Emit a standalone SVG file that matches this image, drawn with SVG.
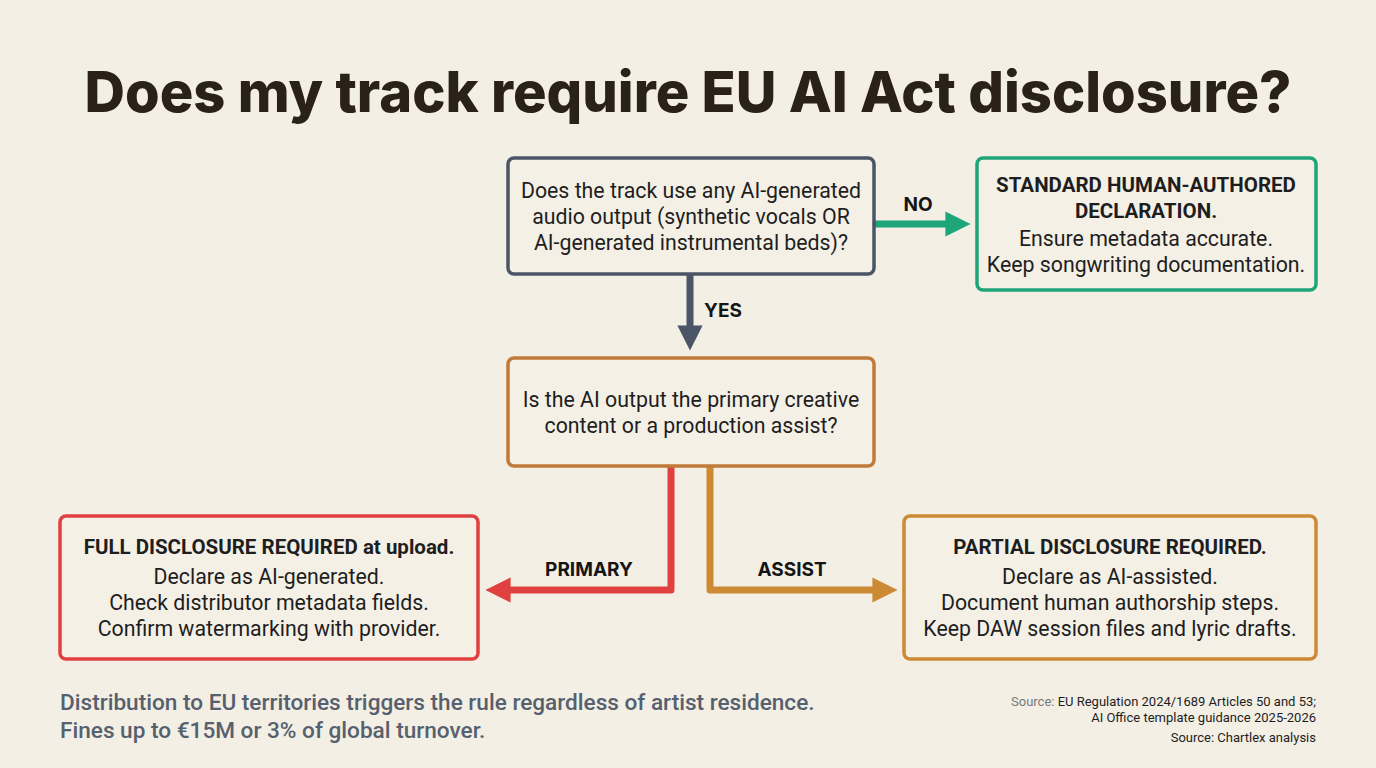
<svg xmlns="http://www.w3.org/2000/svg" width="1376" height="768" viewBox="0 0 1376 768">
<style>
text{font-family:Roboto,"Liberation Sans",sans-serif;fill:#1e1e1e}
.t{font-size:21.3px;text-anchor:middle}
.b{font-weight:700;font-size:20.5px}
.lab{font-family:Inter,"Liberation Sans",sans-serif;font-size:19px;font-weight:700;text-anchor:middle;fill:#151515}
.box{fill:#f4f0e6;stroke-width:3.5}
</style>
<defs>
<marker id="aGray" viewBox="0 0 10 10" refX="5" refY="5" markerWidth="3.6" markerHeight="3.6" orient="auto-start-reverse"><path d="M0,0L10,5L0,10z" fill="#4a5565"/></marker>
<marker id="aGreen" viewBox="0 0 10 10" refX="5" refY="5" markerWidth="3.6" markerHeight="3.6" orient="auto-start-reverse"><path d="M0,0L10,5L0,10z" fill="#1fa57a"/></marker>
<marker id="aRed" viewBox="0 0 10 10" refX="5" refY="5" markerWidth="3.6" markerHeight="3.6" orient="auto-start-reverse"><path d="M0,0L10,5L0,10z" fill="#e04040"/></marker>
<marker id="aOr" viewBox="0 0 10 10" refX="5" refY="5" markerWidth="3.6" markerHeight="3.6" orient="auto-start-reverse"><path d="M0,0L10,5L0,10z" fill="#cc8a35"/></marker>
</defs>
<rect width="1376" height="768" fill="#f3efe5"/>
<text x="688" y="112" style="font-family:Inter,'Liberation Sans',sans-serif;font-size:56px;font-weight:800;text-anchor:middle;fill:#2a2219">Does my track require EU AI Act disclosure?</text>
<g id="connectors">
<path d="M874,224H958" stroke="#1fa57a" stroke-width="7" fill="none" marker-end="url(#aGreen)"/>
<text class="lab" x="918" y="211">NO</text>
<path d="M690,274V338" stroke="#4a5565" stroke-width="7" fill="none" marker-end="url(#aGray)"/>
<text class="lab" x="723" y="317">YES</text>
<path d="M671,466V590H498" stroke="#e04040" stroke-width="7" fill="none" stroke-linejoin="round" marker-end="url(#aRed)"/>
<text class="lab" x="589" y="576">PRIMARY</text>
<path d="M710,466V590H885" stroke="#cc8a35" stroke-width="7" fill="none" stroke-linejoin="round" marker-end="url(#aOr)"/>
<text class="lab" x="792" y="576">ASSIST</text>
</g>
<g id="q1">
<rect class="box" x="508" y="158" width="366" height="116" rx="6" stroke="#4a5565"/>
<text class="t" x="691" y="198">Does the track use any AI-generated</text>
<text class="t" x="691" y="224">audio output (synthetic vocals OR</text>
<text class="t" x="691" y="250">AI-generated instrumental beds)?</text>
</g>
<g id="standard">
<rect class="box" x="977" y="158" width="339" height="132" rx="6" stroke="#1fa57a"/>
<text class="t b" x="1146" y="192">STANDARD HUMAN-AUTHORED</text>
<text class="t b" x="1146" y="218">DECLARATION.</text>
<text class="t" x="1146" y="246">Ensure metadata accurate.</text>
<text class="t" x="1146" y="272">Keep songwriting documentation.</text>
</g>
<g id="q2">
<rect class="box" x="508" y="358" width="366" height="108" rx="6" stroke="#c07a3a"/>
<text class="t" x="691" y="407">Is the AI output the primary creative</text>
<text class="t" x="691" y="433">content or a production assist?</text>
</g>
<g id="full">
<rect class="box" x="60" y="516" width="418" height="143" rx="6" stroke="#e04040"/>
<text class="t b" x="269" y="554">FULL DISCLOSURE REQUIRED at upload.</text>
<text class="t" x="269" y="584">Declare as AI-generated.</text>
<text class="t" x="269" y="610">Check distributor metadata fields.</text>
<text class="t" x="269" y="636">Confirm watermarking with provider.</text>
</g>
<g id="partial">
<rect class="box" x="904" y="516" width="412" height="143" rx="6" stroke="#cc8a35"/>
<text class="t b" x="1110" y="554">PARTIAL DISCLOSURE REQUIRED.</text>
<text class="t" x="1110" y="584">Declare as AI-assisted.</text>
<text class="t" x="1110" y="610">Document human authorship steps.</text>
<text class="t" x="1110" y="636">Keep DAW session files and lyric drafts.</text>
</g>
<text x="60" y="710" style="font-size:22.6px;font-weight:500;fill:#56606e">Distribution to EU territories triggers the rule regardless of artist residence.</text>
<text x="60" y="738" style="font-size:22.6px;font-weight:500;fill:#56606e">Fines up to €15M or 3% of global turnover.</text>
<text x="1316" y="706" style="font-size:13px;text-anchor:end"><tspan fill="#7a7a7a">Source: </tspan>EU Regulation 2024/1689 Articles 50 and 53;</text>
<text x="1316" y="722" style="font-size:13px;text-anchor:end">AI Office template guidance 2025-2026</text>
<text x="1316" y="742" style="font-size:13px;text-anchor:end">Source: Chartlex analysis</text>
</svg>
